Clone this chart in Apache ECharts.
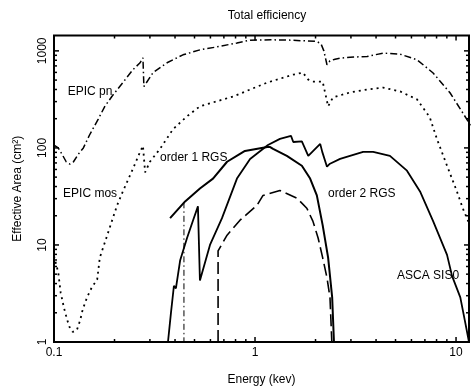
<!DOCTYPE html>
<html><head><meta charset="utf-8">
<script src="https://cdn.jsdelivr.net/npm/echarts@6/dist/echarts.min.js"></script>
<style>html,body{margin:0;padding:0;background:#fff}#c{width:471px;height:391px}</style>
</head><body><div id="c"></div>
<script>
// ---- data (energy in keV, effective area in cm^2) ----
const pnEnergy = [0.100, 0.105, 0.110, 0.115, 0.120, 0.125, 0.132, 0.140, 0.150, 0.166, 0.179, 0.194, 0.220, 0.247, 0.268, 0.277, 0.280, 0.311, 0.365, 0.438, 0.532, 0.647, 0.813, 0.945, 1.20, 1.50, 1.75, 2.03, 2.13, 2.20, 2.28, 2.36, 2.50, 2.65, 2.97, 3.61, 4.33, 5.27, 6.40, 7.69, 9.33, 11.3, 11.8];
const pnArea   = [107, 100, 85, 72, 68, 72, 86, 100, 135, 198, 268, 339, 471, 640, 754, 848, 429, 597, 754, 910, 1024, 1099, 1207, 1290, 1300, 1290, 1270, 1250, 1180, 1000, 719, 790, 820, 842, 860, 875, 948, 925, 809, 592, 370, 198, 170];

const mosEnergy = [0.100, 0.105, 0.108, 0.112, 0.116, 0.120, 0.124, 0.130, 0.135, 0.139, 0.146, 0.154, 0.164, 0.169, 0.184, 0.206, 0.220, 0.247, 0.268, 0.277, 0.284, 0.300, 0.337, 0.391, 0.459, 0.532, 0.778, 1.15, 1.55, 1.73, 1.84, 1.94, 2.17, 2.31, 2.44, 2.97, 3.61, 4.33, 5.27, 6.40, 7.40, 8.04, 9.02, 10.1, 10.8, 11.6];
const mosArea   = [7.7, 5.2, 3.2, 2.27, 1.72, 1.39, 1.27, 1.33, 1.68, 2.17, 2.88, 3.64, 4.4, 7.4, 12.6, 25.6, 35.6, 61, 91, 105, 56, 72, 98, 156, 212, 268, 339, 471, 569, 597, 506, 483, 483, 268, 331, 373, 400, 419, 382, 316, 207, 123, 65.5, 35.6, 23.9, 16.8];

const rgs1Energy = [0.378, 0.449, 0.532, 0.618, 0.726, 0.842, 0.891, 1.15, 1.19, 1.23, 1.44, 1.71, 1.88, 2.03, 2.17, 2.31, 2.42, 2.47];
const rgs1Area   = [18.9, 28.1, 38.2, 48.3, 72, 86.9, 93, 102, 102, 97.7, 82.8, 65.5, 48.3, 32.4, 16.0, 7.4, 2.88, 1.0];

const rgs1DropEnergy = [0.443, 0.443];
const rgs1DropArea   = [27.5, 1.0];

const rgs2Energy = [0.655, 0.655, 0.726, 0.842, 1.023, 1.096, 1.33, 1.62, 1.81, 1.94, 2.06, 2.17, 2.28, 2.36, 2.41];
const rgs2Area   = [1.0, 8.7, 12.6, 18.0, 25.6, 32.4, 36.4, 30.2, 23.9, 17.6, 11.8, 7.4, 4.6, 2.88, 1.0];

const ascaEnergy = [0.369, 0.382, 0.395, 0.404, 0.424, 0.459, 0.492, 0.520, 0.532, 0.597, 0.685, 0.813, 0.945, 1.16, 1.33, 1.51, 1.55, 1.71, 1.84, 2.11, 2.16, 2.28, 2.36, 2.65, 3.45, 3.87, 4.69, 5.70, 6.62, 7.69, 9.02, 9.55, 10.5, 11.1, 11.6];
const ascaArea   = [1.0, 2.02, 3.8, 3.56, 6.9, 11.8, 18.0, 25.0, 4.3, 10, 18.9, 48.3, 77, 107, 124, 133, 115, 117, 82.8, 110, 91, 64, 68.7, 77, 91, 91, 82.8, 58.3, 35.6, 17.6, 7.9, 4.8, 2.88, 1.6, 1.0];

const labelTexts    = ['EPIC pn', 'EPIC mos', 'order 1 RGS', 'order 2 RGS', 'ASCA SIS0'];
const labelEnergies = [0.117, 0.111, 0.337, 2.31, 5.09];
const labelAreas    = [382, 34.0, 79.1, 34.0, 4.83];

const xMajorTicks = [0.1, 1, 10];
const xMinorTicks = [0.2, 0.3, 0.4, 0.5, 0.6, 0.7, 0.8, 0.9, 2, 3, 4, 5, 6, 7, 8, 9];
const yMajorTicks = [1, 10, 100, 1000];
const yMinorTicks = [2, 3, 4, 5, 6, 7, 8, 9, 20, 30, 40, 50, 60, 70, 80, 90, 200, 300, 400, 500, 600, 700, 800, 900];

const titleText = 'Total efficiency';
const xName = 'Energy (kev)';
const yName = 'Effective Area (cm²)';

// ---- chart ----
const FONT = '"Liberation Sans", Arial, Helvetica, sans-serif';
const pairs = (xs, ys) => xs.map((x, i) => [x, ys[i]]);
const fmt = v => String(+(+v).toPrecision(6));

function xTickItem(params, api) {
  const cs = params.coordSys;
  const x = api.coord([api.value(0), 1])[0];
  const len = api.value(2) ? 5 : 3;
  const st = { stroke: '#000', lineWidth: 1.5 };
  return { type: 'group', children: [
    { type: 'line', shape: { x1: x, y1: cs.y + cs.height, x2: x, y2: cs.y + cs.height - len }, style: st },
    { type: 'line', shape: { x1: x, y1: cs.y, x2: x, y2: cs.y + len }, style: st }
  ]};
}
function yTickItem(params, api) {
  const cs = params.coordSys;
  const y = api.coord([1, api.value(1)])[1];
  const len = api.value(2) ? 5 : 3;
  const st = { stroke: '#000', lineWidth: 1.5 };
  return { type: 'group', children: [
    { type: 'line', shape: { x1: cs.x, y1: y, x2: cs.x + len, y2: y }, style: st },
    { type: 'line', shape: { x1: cs.x + cs.width, y1: y, x2: cs.x + cs.width - len, y2: y }, style: st }
  ]};
}
function labelItem(params, api) {
  const p = api.coord([api.value(0), api.value(1)]);
  return { type: 'text', x: p[0], y: p[1], style: {
    text: labelTexts[params.dataIndex], fill: '#000', font: '12px ' + FONT,
    align: 'left', verticalAlign: 'middle' } };
}

const lineSeries = (data, width, type, z) => ({
  type: 'line', data, showSymbol: false, symbol: 'none', smooth: false, clip: true, silent: true, z: z || 3,
  lineStyle: { color: '#000', width, type }
});

const option = {
  animation: false,
  backgroundColor: '#fff',
  title: { text: titleText, left: 262, top: 5, textAlign: 'center',
    textStyle: { fontFamily: FONT, fontSize: 12, fontWeight: 'normal', color: '#000' } },
  grid: { left: 54, right: 2, top: 35.5, bottom: 46, show: true, borderColor: '#000', borderWidth: 2, backgroundColor: 'transparent' },
  xAxis: {
    type: 'log', logBase: 10, min: 0.1, max: 11.6,
    name: xName, nameLocation: 'middle', nameGap: 32,
    nameTextStyle: { fontFamily: FONT, fontSize: 12, color: '#000' },
    axisLine: { show: false }, axisTick: { show: false }, splitLine: { show: false },
    axisLabel: { margin: 5, formatter: fmt, fontFamily: FONT, fontSize: 12, color: '#000' }
  },
  yAxis: {
    type: 'log', logBase: 10, min: 1, max: 1440,
    name: yName, nameLocation: 'middle', nameRotate: 90, nameGap: 30,
    nameTextStyle: { fontFamily: FONT, fontSize: 12, color: '#000' },
    axisLine: { show: false }, axisTick: { show: false }, splitLine: { show: false },
    axisLabel: { rotate: 90, margin: 5, formatter: fmt, fontFamily: FONT, fontSize: 12, color: '#000' }
  },
  series: [
    lineSeries(pairs(pnEnergy, pnArea), 1.5, [7, 3, 1.5, 3]),
    lineSeries(pairs(mosEnergy, mosArea), 1.8, [2, 4]),
    lineSeries(pairs(rgs1Energy, rgs1Area), 2),
    lineSeries(pairs(rgs1DropEnergy, rgs1DropArea), 1, [6, 3, 1.5, 3]),
    lineSeries(pairs(rgs2Energy, rgs2Area), 1.6, [12, 5]),
    lineSeries(pairs(ascaEnergy, ascaArea), 1.8),
    { type: 'custom', silent: true, z: 10, renderItem: xTickItem, encode: { x: 0, y: 1 },
      data: xMajorTicks.map(v => [v, 1, 1]).concat(xMinorTicks.map(v => [v, 1, 0])) },
    { type: 'custom', silent: true, z: 10, renderItem: yTickItem, encode: { x: 0, y: 1 },
      data: yMajorTicks.map(v => [1, v, 1]).concat(yMinorTicks.map(v => [1, v, 0])) },
    { type: 'custom', silent: true, z: 11, renderItem: labelItem, encode: { x: 0, y: 1 },
      data: labelEnergies.map((e, i) => [e, labelAreas[i]]) }
  ]
};
const chart = echarts.init(document.getElementById('c'), null, { renderer: 'canvas' });
chart.setOption(option);
</script></body></html>
